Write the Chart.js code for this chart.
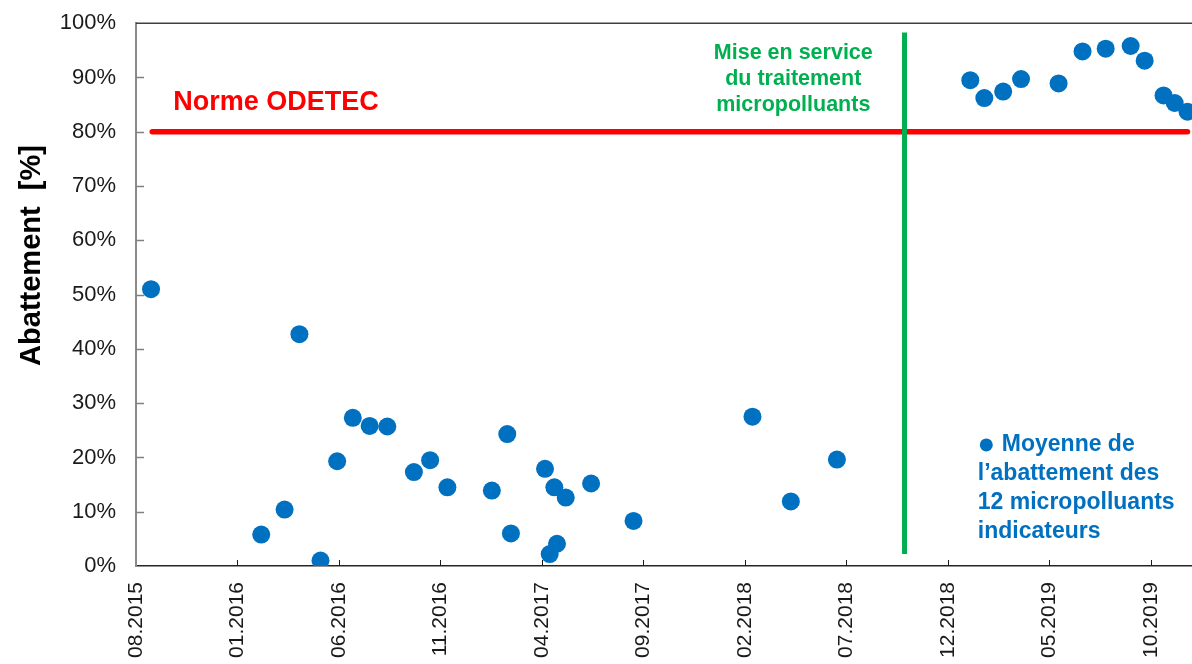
<!DOCTYPE html>
<html>
<head>
<meta charset="utf-8">
<script src="https://cdn.jsdelivr.net/npm/chart.js"></script>
<style>
  html, body { margin: 0; padding: 0; background: #fff; overflow: hidden; }
  #wrap { position: relative; top: -10px; width: 1231px; height: 710px; }
</style>
</head>
<body>
<div id="wrap"><canvas id="myChart"></canvas></div>
<script>
  // x = mois depuis 08.2015 (0 = 08.2015, 5 = 01.2016, ...)
  const moisMesure = [0.74, 6.17, 7.32, 8.05, 9.09, 9.91, 10.68, 11.51, 12.38, 13.69,
    14.49, 15.34, 17.53, 18.29, 18.47, 20.15, 20.38, 20.61, 20.74, 21.17,
    22.42, 24.51, 30.37, 32.26, 34.53, 41.10, 41.79, 42.72, 43.60, 45.45,
    46.63, 47.77, 49.00, 49.69, 50.62, 51.17, 51.80];
  const abattement = [51.0, 5.8, 10.4, 42.7, 1.0, 19.3, 27.3, 25.8, 25.7, 17.3,
    19.5, 14.5, 13.9, 24.3, 6.0, 17.9, 2.2, 14.5, 4.1, 12.6,
    15.2, 8.3, 27.5, 11.9, 19.6, 89.5, 86.2, 87.4, 89.7, 88.9,
    94.8, 95.3, 95.8, 93.1, 86.7, 85.3, 83.7];
  const xTickLabels = ['08.2015', '01.2016', '06.2016', '11.2016', '04.2017', '09.2017',
    '02.2018', '07.2018', '12.2018', '05.2019', '10.2019'];
  const normeODETEC = 80;
  const normeDebutFin = [0.8, 51.8];
  const miseEnService = 37.86;
  const miseEnServiceBasHaut = [2.2, 98.3];

  const BLUE = '#0070C0', RED = '#FF0000', GREEN = '#00B050';
  const FONT = "'Liberation Sans', Arial, sans-serif";
  Chart.defaults.font.family = FONT;

  const points = moisMesure.map((m, i) => ({ x: m, y: abattement[i] }));

  // ticks vers l'intérieur, ligne du haut et textes
  const decor = {
    id: 'decor',
    afterDraw(chart) {
      const { ctx, chartArea: a, scales: { x, y } } = chart;
      ctx.save();
      ctx.strokeStyle = '#404040';
      ctx.lineWidth = 1.5;
      ctx.beginPath();
      ctx.moveTo(a.left, a.top);
      ctx.lineTo(a.right, a.top);
      ctx.stroke();

      ctx.strokeStyle = '#808080';
      ctx.lineWidth = 1.5;
      y.ticks.forEach(t => {
        if (t.value === 0 || t.value === 100) return;
        const py = Math.round(y.getPixelForValue(t.value)) + 0.5;
        ctx.beginPath();
        ctx.moveTo(a.left, py);
        ctx.lineTo(a.left + 8, py);
        ctx.stroke();
      });
      ctx.strokeStyle = '#1a1a1a';
      ctx.lineWidth = 1;
      x.ticks.forEach(t => {
        if (t.value === 0) return;
        const px = Math.round(x.getPixelForValue(t.value)) + 0.5;
        ctx.beginPath();
        ctx.moveTo(px, a.bottom);
        ctx.lineTo(px, a.bottom - 6);
        ctx.stroke();
      });

      // titre de l'axe y
      ctx.save();
      ctx.translate(32, y.getPixelForValue(57.2));
      ctx.rotate(-Math.PI / 2);
      ctx.fillStyle = '#000';
      ctx.font = 'bold 29px ' + FONT;
      ctx.textAlign = 'center';
      ctx.textBaseline = 'middle';
      ctx.fillText('Abattement  [%]', 0, 0);
      ctx.restore();

      ctx.textBaseline = 'middle';
      // Norme ODETEC
      ctx.fillStyle = RED;
      ctx.font = 'bold 27px ' + FONT;
      ctx.textAlign = 'left';
      ctx.fillText('Norme ODETEC', x.getPixelForValue(1.83), y.getPixelForValue(85.3));

      // mise en service
      ctx.fillStyle = GREEN;
      ctx.font = 'bold 21.5px ' + FONT;
      ctx.textAlign = 'center';
      const cx = x.getPixelForValue(32.38);
      ['Mise en service', 'du traitement', 'micropolluants'].forEach((s, i) => {
        ctx.fillText(s, cx, y.getPixelForValue(94.5) + i * 26);
      });

      // légende
      ctx.fillStyle = BLUE;
      ctx.font = 'bold 23px ' + FONT;
      ctx.textAlign = 'left';
      const lx = x.getPixelForValue(41.47);
      const ly = y.getPixelForValue(22.3);
      ctx.beginPath();
      ctx.arc(lx + 8.5, ly, 6.5, 0, Math.PI * 2);
      ctx.fill();
      const lignes = ['Moyenne de', 'l\u2019abattement des', '12 micropolluants', 'indicateurs'];
      lignes.forEach((s, i) => {
        ctx.fillText(s, i === 0 ? lx + 24 : lx, ly + i * 29);
      });
      ctx.restore();
    }
  };

  const myChart = new Chart(document.getElementById('myChart'), {
    type: 'scatter',
    data: {
      datasets: [
        {
          label: 'Moyenne',
          data: points,
          backgroundColor: BLUE,
          borderWidth: 0,
          pointRadius: 9,
          order: 0
        },
        {
          type: 'line',
          label: 'Mise en service',
          data: miseEnServiceBasHaut.map(v => ({ x: miseEnService, y: v })),
          borderColor: GREEN,
          borderWidth: 5,
          pointRadius: 0,
          order: 1
        },
        {
          type: 'line',
          label: 'Norme ODETEC',
          data: normeDebutFin.map(v => ({ x: v, y: normeODETEC })),
          borderColor: RED,
          borderWidth: 5.5,
          borderCapStyle: 'round',
          pointRadius: 0,
          order: 2
        }
      ]
    },
    options: {
      responsive: true,
      maintainAspectRatio: false,
      animation: false,
      layout: { padding: { top: 13.5, left: 0, right: 0, bottom: 0 } },
      plugins: { legend: { display: false }, tooltip: { enabled: false } },
      scales: {
        x: {
          type: 'linear',
          min: 0,
          max: 53.5,
          afterBuildTicks: s => { s.ticks = xTickLabels.map((l, i) => ({ value: i * 5 })); },
          afterFit: s => { s.height = 134; },
          grid: { display: false, drawTicks: false },
          border: { display: true, color: '#262626', width: 1.5 },
          ticks: {
            autoSkip: false,
            minRotation: 90,
            maxRotation: 90,
            padding: 16,
            color: '#1a1a1a',
            font: { size: 21 },
            callback: v => xTickLabels[Math.round(v / 5)]
          }
        },
        y: {
          min: 0,
          max: 100,
          afterFit: s => { s.width = 136; },
          grid: { display: false, drawTicks: false },
          border: { display: true, color: '#8a8a8a', width: 2 },
          ticks: {
            stepSize: 10,
            padding: 20,
            color: '#1a1a1a',
            font: { size: 22 },
            callback: v => v + '%'
          }
        }
      }
    },
    plugins: [decor]
  });
</script>
</body>
</html>
